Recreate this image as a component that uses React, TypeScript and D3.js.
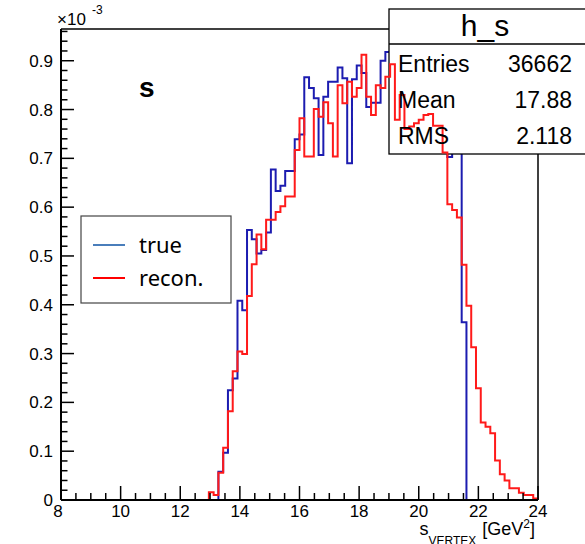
import React from "react";
import * as d3 from "d3";

// Histogram binning (8 → 24 GeV², 100 bins)
const X_MIN = 8;
const X_MAX = 24;
const N_BINS = 100;

// Bin contents, ×10^-3 (bins 0..99)
const trueValues: number[] = [
  0, 0, 0, 0, 0, 0, 0, 0, 0, 0,
  0, 0, 0, 0, 0, 0, 0, 0, 0, 0,
  0, 0, 0, 0, 0, 0, 0, 0, 0, 0,
  0, 0, 0, 0.058, 0.097, 0.225, 0.249, 0.408, 0.389, 0.553,
  0.534, 0.505, 0.512, 0.548, 0.677, 0.633, 0.644, 0.674, 0.674, 0.739,
  0.749, 0.866, 0.844, 0.823, 0.707, 0.826, 0.857, 0.857, 0.886, 0.864,
  0.69, 0.862, 0.89, 0.875, 0.805, 0.814, 0.814, 0.9, 0.918, 0.87,
  0.84, 0.85, 0.82, 0.8, 0.83, 0.81, 0.8, 0.82, 0.78, 0.77,
  0.74, 0.703, 0.73, 0.75, 0.364, 0, 0, 0, 0, 0,
  0, 0, 0, 0, 0, 0, 0, 0, 0, 0,
];

const reconValues: number[] = [
  0, 0, 0, 0, 0, 0, 0, 0, 0, 0,
  0, 0, 0, 0, 0, 0, 0, 0, 0, 0,
  0, 0, 0, 0, 0, 0, 0, 0, 0, 0,
  0, 0.016, 0.01, 0.056, 0.107, 0.182, 0.264, 0.304, 0.299, 0.418,
  0.483, 0.544, 0.514, 0.574, 0.574, 0.59, 0.602, 0.622, 0.622, 0.717,
  0.782, 0.704, 0.704, 0.801, 0.785, 0.815, 0.772, 0.704, 0.85, 0.813,
  0.857, 0.826, 0.844, 0.912, 0.826, 0.789, 0.85, 0.844, 0.867, 0.893,
  0.779, 0.83, 0.76, 0.765, 0.772, 0.779, 0.789, 0.791, 0.767, 0.767,
  0.712, 0.606, 0.594, 0.579, 0.482, 0.398, 0.313, 0.229, 0.159, 0.15,
  0.137, 0.081, 0.053, 0.04, 0.024, 0.024, 0.015, 0.01, 0.01, 0.003,
];

const xMajorTicks = [8, 10, 12, 14, 16, 18, 20, 22, 24];
const yMajorTicks = [0, 0.1, 0.2, 0.3, 0.4, 0.5, 0.6, 0.7, 0.8, 0.9];
const yTickLabels = ["0", "0.1", "0.2", "0.3", "0.4", "0.5", "0.6", "0.7", "0.8", "0.9"];
const Y_MAX = 0.965;

const statsLabels = ["Entries", "Mean", "RMS"];
const statsValues = ["36662", "17.88", "2.118"];
const histName = "h_s";
const legendLabels = ["true", "recon."];
const legendColors = ["#4a7ebb", "#ff0000"];

const FONT = "'Liberation Sans', Arial, Helvetica, sans-serif";

export default function App() {
  const W = 585;
  const H = 544;
  const left = 61, right = 538, top = 29, bottom = 500;

  const x = d3.scaleLinear().domain([X_MIN, X_MAX]).range([left, right]);
  const y = d3.scaleLinear().domain([0, Y_MAX]).range([bottom, top]);
  const binW = (X_MAX - X_MIN) / N_BINS;

  const histPath = (vals: number[]) => {
    const pts: [number, number][] = vals.map((v, i) => [X_MIN + i * binW, v]);
    pts.push([X_MAX, vals[vals.length - 1]]);
    pts.push([X_MAX, 0]);
    const line = d3
      .line<[number, number]>()
      .x((d) => x(d[0]))
      .y((d) => y(d[1]))
      .curve(d3.curveStepAfter);
    return line(pts) || "";
  };

  const xMinor = d3.range(X_MIN, X_MAX + 0.001, 0.5).filter((t) => !xMajorTicks.includes(t));
  const yMinor = d3.range(0, Y_MAX, 0.02).filter(
    (t) => !yMajorTicks.some((m) => Math.abs(m - t) < 1e-6)
  );

  const statsX = 389;
  const statsTop = 9;
  const statsDiv = 44;
  const statsBottom = 154;
  const rowBase = [72, 108, 144];

  return (
    <svg
      width={W}
      height={H}
      viewBox={`0 0 ${W} ${H}`}
      style={{ position: "absolute", left: 0, top: 0, background: "#fff" }}
      fontFamily={FONT}
    >
      <rect x={0} y={0} width={W} height={H} fill="#fff" />

      {/* blue (true) histogram */}
      <path d={histPath(trueValues)} fill="none" stroke="#1c1cb0" strokeWidth={2} />

      {/* stats box */}
      <rect
        x={statsX}
        y={statsTop}
        width={W - statsX + 10}
        height={statsBottom - statsTop}
        fill="#fff"
        stroke="#000"
        strokeWidth={1.3}
      />
      <line x1={statsX} x2={W + 10} y1={statsDiv} y2={statsDiv} stroke="#000" strokeWidth={1.3} />

      {/* red (recon) histogram */}
      <path d={histPath(reconValues)} fill="none" stroke="#ff1a1a" strokeWidth={2} />

      <text x={485} y={36} fontSize={30} textAnchor="middle" fill="#000">
        {histName}
      </text>
      {statsLabels.map((lab, i) => (
        <g key={lab}>
          <text x={398} y={rowBase[i]} fontSize={23} fill="#000">
            {lab}
          </text>
          <text x={572} y={rowBase[i]} fontSize={23} textAnchor="end" fill="#000">
            {statsValues[i]}
          </text>
        </g>
      ))}

      {/* frame */}
      <line x1={left} x2={statsX} y1={top} y2={top} stroke="#000" strokeWidth={1.5} />
      <line x1={right} x2={right} y1={statsBottom} y2={bottom} stroke="#000" strokeWidth={1.5} />
      <line x1={left} x2={left} y1={top} y2={bottom} stroke="#000" strokeWidth={2} />
      <line x1={left} x2={right} y1={bottom} y2={bottom} stroke="#000" strokeWidth={2} />

      {/* x ticks */}
      {xMajorTicks.map((t) => (
        <g key={"xm" + t}>
          <line x1={x(t)} x2={x(t)} y1={bottom} y2={bottom - 14} stroke="#000" strokeWidth={1.5} />
          <text x={x(t) - (t === X_MIN ? 3 : 0)} y={517} fontSize={17} textAnchor="middle" fill="#000">
            {t}
          </text>
        </g>
      ))}
      {xMinor.map((t) => (
        <line key={"xn" + t} x1={x(t)} x2={x(t)} y1={bottom} y2={bottom - 7} stroke="#000" strokeWidth={1.5} />
      ))}

      {/* y ticks */}
      {yMajorTicks.map((t, i) => (
        <g key={"ym" + t}>
          <line x1={left} x2={left + 13} y1={y(t)} y2={y(t)} stroke="#000" strokeWidth={1.5} />
          <text x={53} y={y(t) + 6} fontSize={17} textAnchor="end" fill="#000">
            {yTickLabels[i]}
          </text>
        </g>
      ))}
      {yMinor.map((t) => (
        <line key={"yn" + t} x1={left} x2={left + 6.5} y1={y(t)} y2={y(t)} stroke="#000" strokeWidth={1.5} />
      ))}

      {/* exponent */}
      <text x={57} y={25} fontSize={17} fill="#000">
        ×10
      </text>
      <text x={92} y={14} fontSize={12} fill="#000">
        -3
      </text>

      {/* panel label */}
      <text x={139} y={97} fontSize={28} fontWeight="bold" fill="#000">
        s
      </text>

      {/* x axis title */}
      <text x={535} y={535} fontSize={18} textAnchor="end" fill="#000">
        <tspan>s</tspan>
        <tspan fontSize={12} dy={10}>VERTEX</tspan>
        <tspan dy={-10} dx={6}>[GeV</tspan>
        <tspan fontSize={12} dy={-7}>2</tspan>
        <tspan dy={7}>]</tspan>
      </text>

      {/* legend */}
      <rect x={81} y={216} width={150} height={87} fill="#fff" stroke="#444" strokeWidth={1.2} />
      {legendLabels.map((lab, i) => (
        <g key={lab}>
          <line x1={93} x2={125} y1={245 + i * 33} y2={245 + i * 33} stroke={legendColors[i]} strokeWidth={2} />
          <text x={139} y={253 + i * 33} fontSize={22} fontFamily="'Noto Sans', 'Open Sans', sans-serif" fill="#000">
            {lab}
          </text>
        </g>
      ))}
    </svg>
  );
}
